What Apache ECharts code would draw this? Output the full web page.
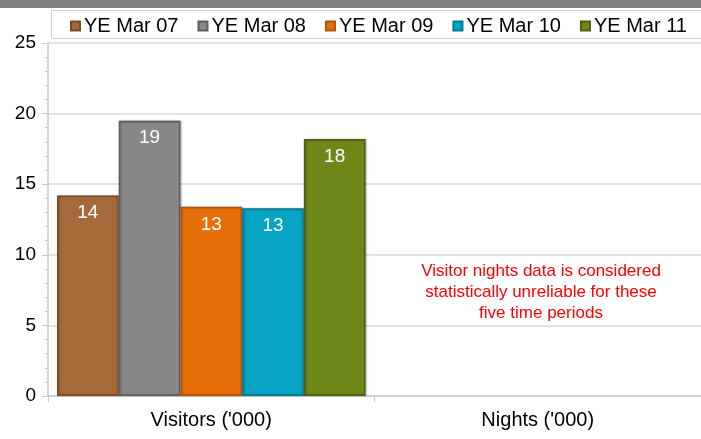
<!DOCTYPE html>
<html><head><meta charset="utf-8">
<script src="https://cdn.jsdelivr.net/npm/echarts@6/dist/echarts.min.js"></script>
<style>html,body{margin:0;padding:0;background:#fff}#c{width:701px;height:439px}</style>
</head><body><div id="c"></div>
<script>
const categories = ["Visitors ('000)", "Nights ('000)"];
const seriesNames = ["YE Mar 07", "YE Mar 08", "YE Mar 09", "YE Mar 10", "YE Mar 11"];
const ye07 = [14.2, null];
const ye08 = [19.5, null];
const ye09 = [13.4, null];
const ye10 = [13.3, null];
const ye11 = [18.2, null];
const seriesValues = [ye07, ye08, ye09, ye10, ye11];
const yTicks = [0, 5, 10, 15, 20, 25];
const note = ["Visitor nights data is considered", "statistically unreliable for these", "five time periods"];

const colors = ['#A46A3A', '#888888', '#E8700A', '#08A4C4', '#6E8719'];
const borders = ['#7a4c26', '#5e5e5e', '#b0540a', '#067a92', '#4d5f10'];
const font = 'Liberation Sans, Arial, sans-serif';

const chart = echarts.init(document.getElementById('c'), null, {renderer: 'canvas'});
chart.setOption({
  animation: false,
  color: colors,
  grid: {left: 48, right: -5, top: 43, bottom: 43, containLabel: false},
  legend: {
    data: seriesNames,
    left: 65, top: 11,
    itemWidth: 9, itemHeight: 9, itemGap: 19,
    icon: 'rect',
    textStyle: {fontFamily: font, fontSize: 20, color: '#000', padding: [0, 0, 0, -1]}
  },
  graphic: [
    {type: 'rect', left: 0, top: 0, shape: {width: 701, height: 8}, style: {fill: '#808080'}, silent: true},
    {type: 'rect', left: 49, top: 8, shape: {width: 660, height: 28}, style: {fill: 'none', stroke: '#d0d0d0', lineWidth: 1}, silent: true},
    {type: 'text', x: 541, y: 261,
      style: {text: note.join('\n'), fill: '#FF0000', font: '17px ' + font, align: 'center', verticalAlign: 'top', lineHeight: 21},
      silent: true, z: 10}
  ],
  xAxis: {
    type: 'category', data: categories,
    axisLine: {lineStyle: {color: '#c8c8c8', width: 1.5}},
    axisTick: {show: true, length: 6, lineStyle: {color: '#c8c8c8'}},
    axisLabel: {fontFamily: font, fontSize: 20, color: '#000', margin: 14}
  },
  yAxis: {
    type: 'value', min: 0, max: 25, interval: 5,
    axisLine: {show: true, lineStyle: {color: '#c8c8c8', width: 1.5}},
    axisTick: {show: true, length: 6, lineStyle: {color: '#c8c8c8'}},
    minorTick: {show: true, splitNumber: 5, length: 3, lineStyle: {color: '#c8c8c8'}},
    splitLine: {lineStyle: {color: '#d9d9d9', width: 1.5}},
    axisLabel: {fontFamily: font, fontSize: 19, color: '#000', margin: 12,
      formatter: v => yTicks.includes(v) ? String(v) : ''}
  },
  series: seriesNames.map((n, i) => ({
    name: n, type: 'bar', data: seriesValues[i],
    barGap: '0%', barCategoryGap: '5.5%',
    itemStyle: {color: colors[i], borderColor: borders[i], borderWidth: 1.5,
      shadowColor: 'rgba(0,0,0,0.25)', shadowBlur: 2, shadowOffsetX: 1},
    label: {show: true, position: 'insideTop', distance: 8, color: '#fff',
      fontFamily: font, fontSize: 19, formatter: p => p.value == null ? '' : String(Math.floor(p.value))}
  }))
});
</script></body></html>
